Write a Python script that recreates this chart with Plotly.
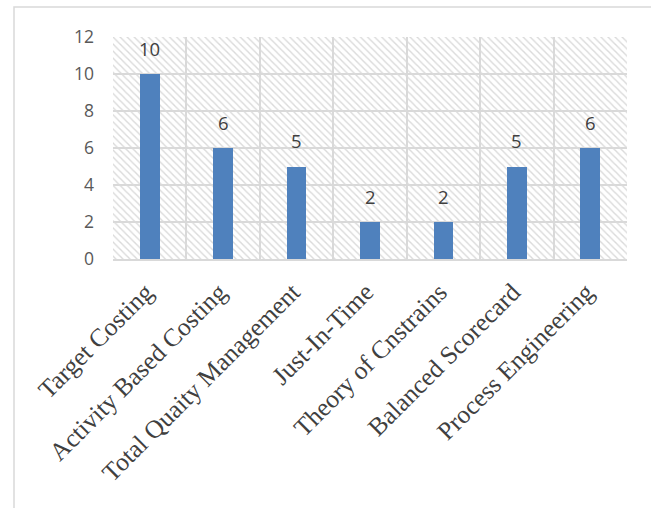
import plotly.graph_objects as go

categories = ["Target Costing", "Activity Based Costing", "Total Quaity Management",
              "Just-In-Time", "Theory of Cnstrains", "Balanced Scorecard", "Process Engineering"]
values = [10, 6, 5, 2, 2, 5, 6]
y_ticks = [0, 2, 4, 6, 8, 10, 12]

W, H = 651, 508
L, R, T, B = 113, 627, 37, 259
xpos = list(range(len(categories)))
ymax = y_ticks[-1]

fig = go.Figure()
# patterned plot-area background
fig.add_trace(go.Bar(
    x=xpos, y=[ymax] * len(categories), width=1.0,
    marker=dict(color="rgba(0,0,0,0)", line=dict(width=0),
                pattern=dict(shape="\\", fgcolor="#dadada", bgcolor="rgba(0,0,0,0)",
                             size=5, solidity=0.28, fillmode="replace")),
    hoverinfo="skip", showlegend=False))
fig.add_trace(go.Bar(
    x=xpos, y=values, width=0.27,
    marker=dict(color="#4f81bd", line=dict(width=0)),
    showlegend=False))

for x, v in zip(xpos, values):
    fig.add_annotation(x=x, y=v, text=str(v), showarrow=False, yshift=26,
                       font=dict(family="Open Sans, Liberation Sans", size=18.5, color="#404040"))

fig.add_shape(type="rect", xref="paper", yref="paper",
              x0=(14 - L) / (R - L), x1=(700 - L) / (R - L),
              y0=(B - 7) / (B - T), y1=(B - 600) / (B - T),
              line=dict(color="#d9d9d9", width=1.5), fillcolor="rgba(0,0,0,0)", layer="below")

fig.update_layout(
    width=W, height=H, barmode="overlay", bargap=0,
    margin=dict(l=L, r=W - R, t=T, b=H - B),
    plot_bgcolor="white", paper_bgcolor="white",
    xaxis=dict(range=[-0.5, len(categories) - 0.5], tickvals=xpos, ticktext=categories,
               tickangle=-45, showgrid=False, zeroline=False,
               showline=True, linecolor="#d9d9d9", linewidth=2,
               tickfont=dict(family="Liberation Serif", size=25.5, color="#404040"),
               ticklabelshift=-4, ticklabelstandoff=6,
               minor=dict(tickvals=[i - 0.5 for i in range(len(categories) + 1)],
                          showgrid=True, gridcolor="#d9d9d9", gridwidth=2),
               ticks="", fixedrange=True),
    yaxis=dict(range=[0, ymax], tickvals=y_ticks, showgrid=True, gridcolor="#d9d9d9",
               gridwidth=2, zeroline=False, ticks="", ticklabelstandoff=18,
               tickfont=dict(family="Open Sans, Liberation Sans", size=17.5, color="#595959")),
)

fig.write_html("out.html")
